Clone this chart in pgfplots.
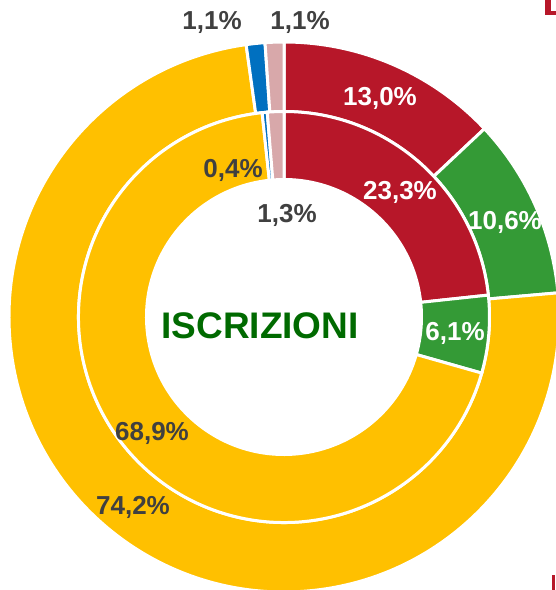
\documentclass[border=0pt]{standalone}
\usepackage{pgfplots}
\pgfplotsset{compat=1.18}
\usepackage{pgfplotstable}
\usepackage{fontspec}
\setmainfont{Liberation Sans}
\definecolor{cRed}{HTML}{B71729}
\definecolor{cGreen}{HTML}{349A36}
\definecolor{cYellow}{HTML}{FFC000}
\definecolor{cBlue}{HTML}{0070C0}
\definecolor{cPink}{HTML}{D8A8AA}
\definecolor{cGray}{HTML}{404040}
\definecolor{cTitle}{HTML}{006A00}

\pgfplotstableread{
share col
13.0 cRed
10.6 cGreen
74.2 cYellow
1.1 cBlue
1.1 cPink
}\outerdata
\pgfplotstableread{
share col
23.3 cRed
6.1 cGreen
68.9 cYellow
0.4 cBlue
1.3 cPink
}\innerdata

\newcommand\drawring[3]{%
  \xdef\cum{0}%
  \pgfplotsforeachungrouped \i in {0,...,4}{%
    \pgfplotstablegetelem{\i}{share}\of#1\let\v\pgfplotsretval
    \pgfplotstablegetelem{\i}{col}\of#1\let\c\pgfplotsretval
    \pgfmathsetmacro\aone{90-3.6*\cum}%
    \pgfmathsetmacro\atwo{90-3.6*(\cum+\v)}%
    \pgfmathsetmacro\newcum{\cum+\v}\xdef\cum{\newcum}%
    \edef\temp{\noexpand\fill[fill=\c,draw=white,line width=3pt,line join=miter]
      ([shift={(\aone:#3pt)}]axis cs:284,273) arc[start angle=\aone,end angle=\atwo,radius=#3pt]
      -- ([shift={(\atwo:#2pt)}]axis cs:284,273) arc[start angle=\atwo,end angle=\aone,radius=#2pt] -- cycle;}%
    \temp
  }%
}

\begin{document}
\begin{tikzpicture}
\begin{axis}[x=1pt,y=1pt,xmin=0,xmax=556,ymin=0,ymax=590,
  axis line style={draw=none},ticks=none,clip=true,scale only axis]
\drawring{\outerdata}{205.5}{275}
\drawring{\innerdata}{137.5}{205.5}
\fill[cRed] (axis cs:545,590) rectangle (axis cs:550.5,575);
\fill[cRed] (axis cs:545,579) rectangle (axis cs:556,575);
\fill[cRed] (axis cs:552,0) rectangle (axis cs:555,15);
\begin{scope}[every node/.style={font=\fontsize{26}{30}\selectfont\bfseries}]
\node[white] at (axis cs:380,492) {13,0\%};
\node[white] at (axis cs:505,368) {10,6\%};
\node[cGray] at (axis cs:133,83) {74,2\%};
\node[cGray] at (axis cs:212,568) {1,1\%};
\node[cGray] at (axis cs:300,568) {1,1\%};
\node[white] at (axis cs:400,398) {23,3\%};
\node[white] at (axis cs:455,257) {6,1\%};
\node[cGray] at (axis cs:152,157) {68,9\%};
\node[cGray] at (axis cs:233,420) {0,4\%};
\node[cGray] at (axis cs:287,375) {1,3\%};
\end{scope}
\node[cTitle,font=\fontsize{37}{40}\selectfont\bfseries] at (axis cs:260,264) {ISCRIZIONI};
\end{axis}
\end{tikzpicture}
\end{document}
